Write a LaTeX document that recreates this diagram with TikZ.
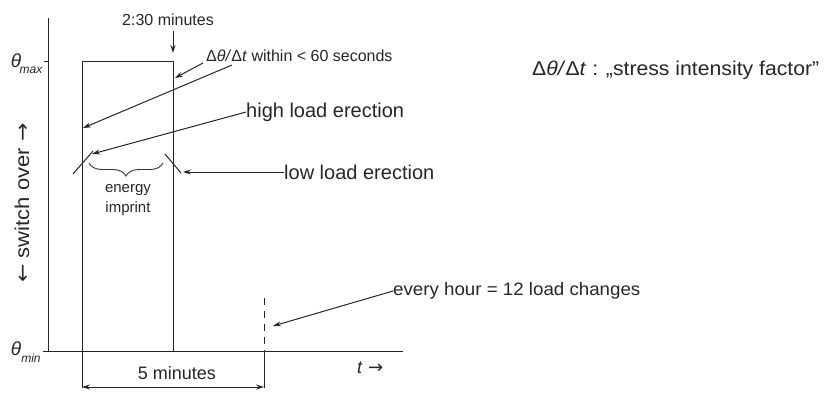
\documentclass[tikz,border=0pt]{standalone}
\usepackage{fontspec}
\setmainfont{Liberation Sans}
\newfontfamily\arrfont{DejaVu Sans}
\usetikzlibrary{arrows.meta,decorations.pathreplacing}
\begin{document}
\begin{tikzpicture}[x=1pt,y=-1pt,
  ln/.style={line width=1pt,draw=black!85},
  arr/.style={ln,-{Stealth[length=8pt,width=5pt]}},
  darr/.style={ln,{Stealth[length=8pt,width=5pt]}-{Stealth[length=8pt,width=5pt]}},
  lbl/.style={inner sep=0pt,text=black!85},
  big/.style={lbl,font=\fontsize{20}{22}\selectfont},
  mid/.style={lbl,font=\fontsize{18}{20}\selectfont},
  sml/.style={lbl,font=\fontsize{16}{18}\selectfont}]
\useasboundingbox (0,0) rectangle (827,392);
% axes
\coordinate (ytop) at (48,18);
\coordinate (orig) at (48,351);
\coordinate (xl) at (43,351);
\coordinate (xr) at (403,351);
\draw[ln] (ytop) -- (orig);
\draw[ln] (xl) -- (xr);
\coordinate (tmx1) at (44,61);
\coordinate (tmx2) at (48,61);
\draw[ln] (tmx1) -- (tmx2);
% box
\coordinate (bl) at (82,388);
\coordinate (tl) at (82,61);
\coordinate (tr) at (173,61);
\coordinate (br) at (173,351);
\draw[ln] (bl) -- (tl) -- (tr) -- (br);
% 2:30 arrow
\node[sml] (t230) at (168,20) {2:30 minutes};
\coordinate (a230s) at (173,31);
\coordinate (a230e) at (173,53);
\draw[arr] (a230s) -- (a230e);
% dashed line and dimension
\coordinate (d1) at (264,298);
\coordinate (d2) at (264,351);
\coordinate (d3) at (264,388);
\draw[ln,dash pattern=on 7pt off 6pt] (d1) -- (d2);
\draw[ln] (d2) -- (d3);
\coordinate (dimL) at (82,387);
\coordinate (dimR) at (264,387);
\draw[darr] (dimL) -- (dimR);
\node[mid] (five) at (177,373) {5 minutes};
\node[mid,anchor=west] (tlab) at (357,368) {\itshape t\,\,{\arrfont\upshape →}};
% slash marks
\coordinate (s1a) at (73,174);
\coordinate (s1b) at (93,151);
\coordinate (s2a) at (165,154);
\coordinate (s2b) at (181,173);
\draw[ln] (s1a) -- (s1b);
\draw[ln] (s2a) -- (s2b);
% brace
\coordinate (brL) at (89,163);
\coordinate (brR) at (163,163);
\draw[line width=0.9pt,draw=black!80,decorate,decoration={brace,mirror,amplitude=13pt,aspect=0.5}] (brL) -- (brR);
\node[sml,align=center,font=\fontsize{15}{20}\selectfont] (energy) at (128,200) {energy\\imprint};
% labels
\node[sml,anchor=west] (dtheta) at (206,56) {Δ\textit{θ/}Δ\textit{t} within < 60 seconds};
\coordinate (dth1) at (203,63);
\coordinate (dth2) at (232,65);
\coordinate (dthT1) at (175,78);
\coordinate (dthT2) at (83,128);
\draw[arr] (dth1) -- (dthT1);
\draw[arr] (dth2) -- (dthT2);
\node[big,anchor=west] (high) at (246,112) {high load erection};
\coordinate (highT) at (92,154);
\draw[arr] (high.west) -- (highT);
\node[big,anchor=west] (low) at (284,172) {low load erection};
\coordinate (lowT) at (183,172);
\draw[arr] (low.west) -- (lowT);
\node[mid,anchor=west] (every) at (393,291) {\scalebox{1.04}[1]{every hour = 12 load changes}};
\coordinate (everyT) at (273,326);
\draw[arr] (every.west) -- (everyT);
\node[big,anchor=west] (sif) at (532,70) {\scalebox{1.06}[1]{Δ\textit{θ/}Δ\textit{t} : „stress intensity factor"}};
% axis labels
\node[lbl,font=\fontsize{19}{20}\selectfont\itshape] (thmax) at (16,61) {θ};
\node[lbl,font=\fontsize{12}{14}\selectfont\itshape] (max) at (31,70) {max};
\node[lbl,font=\fontsize{19}{20}\selectfont\itshape] (thmin) at (16,349) {θ};
\node[lbl,font=\fontsize{12}{14}\selectfont\itshape] (min) at (31,358) {min};
\node[big,rotate=90] (switch) at (22,203) {\scalebox{1.1}[1]{{\arrfont ←} switch over {\arrfont →}}};
\end{tikzpicture}
\end{document}
